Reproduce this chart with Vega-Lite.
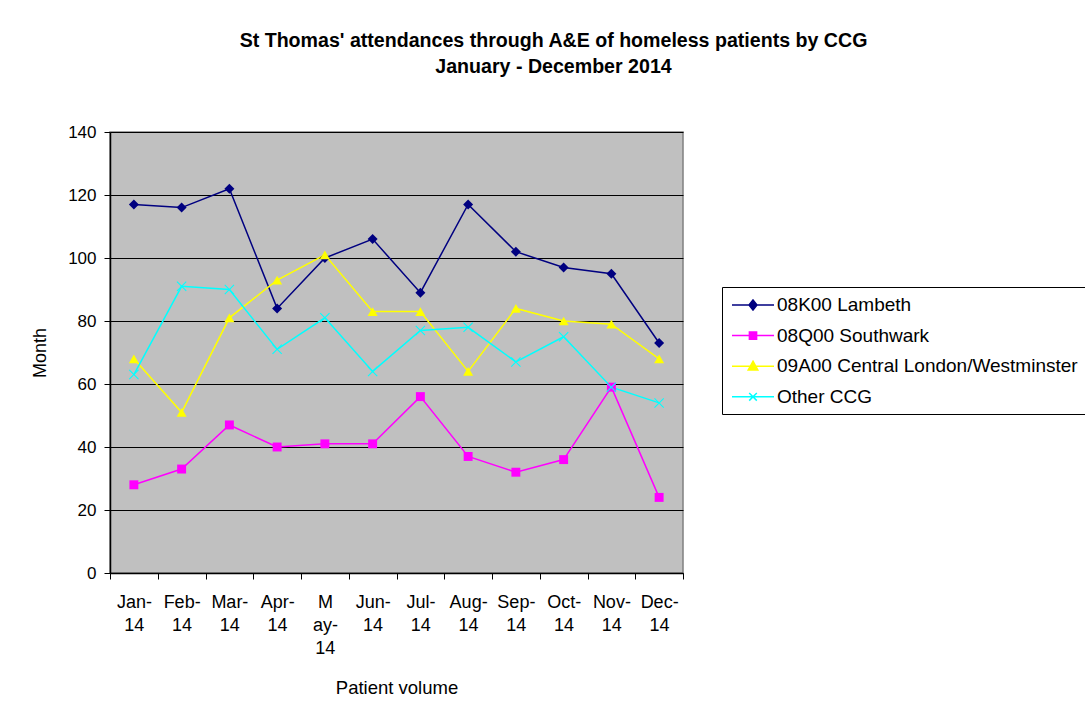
{
  "$schema": "https://vega.github.io/schema/vega-lite/v6.json",
  "autosize": {"type": "none"},
  "width": 573,
  "height": 441,
  "padding": {"left": 110, "top": 132, "right": 402, "bottom": 144},
  "background": "white",
  "config": {
    "font": "Liberation Sans",
    "view": {"fill": "#C0C0C0", "stroke": "#808080", "strokeWidth": 1.5}
  },
  "title": {
    "text": ["St Thomas' attendances through A&E of homeless patients by CCG", "January - December 2014"],
    "fontSize": 19.6,
    "fontWeight": "bold",
    "color": "black",
    "anchor": "middle",
    "dx": 157,
    "offset": 45,
    "lineHeight": 26.5
  },
  "data": {
    "values": [
      {"month": "Jan-14", "series": "08K00 Lambeth", "value": 117},
      {"month": "Feb-14", "series": "08K00 Lambeth", "value": 116},
      {"month": "Mar-14", "series": "08K00 Lambeth", "value": 122},
      {"month": "Apr-14", "series": "08K00 Lambeth", "value": 84},
      {"month": "May-14", "series": "08K00 Lambeth", "value": 100},
      {"month": "Jun-14", "series": "08K00 Lambeth", "value": 106},
      {"month": "Jul-14", "series": "08K00 Lambeth", "value": 89},
      {"month": "Aug-14", "series": "08K00 Lambeth", "value": 117},
      {"month": "Sep-14", "series": "08K00 Lambeth", "value": 102},
      {"month": "Oct-14", "series": "08K00 Lambeth", "value": 97},
      {"month": "Nov-14", "series": "08K00 Lambeth", "value": 95},
      {"month": "Dec-14", "series": "08K00 Lambeth", "value": 73},
      {"month": "Jan-14", "series": "08Q00 Southwark", "value": 28},
      {"month": "Feb-14", "series": "08Q00 Southwark", "value": 33},
      {"month": "Mar-14", "series": "08Q00 Southwark", "value": 47},
      {"month": "Apr-14", "series": "08Q00 Southwark", "value": 40},
      {"month": "May-14", "series": "08Q00 Southwark", "value": 41},
      {"month": "Jun-14", "series": "08Q00 Southwark", "value": 41},
      {"month": "Jul-14", "series": "08Q00 Southwark", "value": 56},
      {"month": "Aug-14", "series": "08Q00 Southwark", "value": 37},
      {"month": "Sep-14", "series": "08Q00 Southwark", "value": 32},
      {"month": "Oct-14", "series": "08Q00 Southwark", "value": 36},
      {"month": "Nov-14", "series": "08Q00 Southwark", "value": 59},
      {"month": "Dec-14", "series": "08Q00 Southwark", "value": 24},
      {"month": "Jan-14", "series": "09A00 Central London/Westminster", "value": 68},
      {"month": "Feb-14", "series": "09A00 Central London/Westminster", "value": 51},
      {"month": "Mar-14", "series": "09A00 Central London/Westminster", "value": 81},
      {"month": "Apr-14", "series": "09A00 Central London/Westminster", "value": 93},
      {"month": "May-14", "series": "09A00 Central London/Westminster", "value": 101},
      {"month": "Jun-14", "series": "09A00 Central London/Westminster", "value": 83},
      {"month": "Jul-14", "series": "09A00 Central London/Westminster", "value": 83},
      {"month": "Aug-14", "series": "09A00 Central London/Westminster", "value": 64},
      {"month": "Sep-14", "series": "09A00 Central London/Westminster", "value": 84},
      {"month": "Oct-14", "series": "09A00 Central London/Westminster", "value": 80},
      {"month": "Nov-14", "series": "09A00 Central London/Westminster", "value": 79},
      {"month": "Dec-14", "series": "09A00 Central London/Westminster", "value": 68},
      {"month": "Jan-14", "series": "Other CCG", "value": 63},
      {"month": "Feb-14", "series": "Other CCG", "value": 91},
      {"month": "Mar-14", "series": "Other CCG", "value": 90},
      {"month": "Apr-14", "series": "Other CCG", "value": 71},
      {"month": "May-14", "series": "Other CCG", "value": 81},
      {"month": "Jun-14", "series": "Other CCG", "value": 64},
      {"month": "Jul-14", "series": "Other CCG", "value": 77},
      {"month": "Aug-14", "series": "Other CCG", "value": 78},
      {"month": "Sep-14", "series": "Other CCG", "value": 67},
      {"month": "Oct-14", "series": "Other CCG", "value": 75},
      {"month": "Nov-14", "series": "Other CCG", "value": 59},
      {"month": "Dec-14", "series": "Other CCG", "value": 54}
    ]
  },
  "encoding": {
    "x": {
      "field": "month",
      "type": "ordinal",
      "sort": ["Jan-14", "Feb-14", "Mar-14", "Apr-14", "May-14", "Jun-14", "Jul-14", "Aug-14", "Sep-14", "Oct-14", "Nov-14", "Dec-14"],
      "scale": {"type": "band", "paddingInner": 0, "paddingOuter": 0},
      "bandPosition": 0.5,
      "axis": {
        "title": "Patient volume",
        "titleFontSize": 18.5,
        "titleFontWeight": "normal",
        "titleColor": "black",
        "titlePadding": 21,
        "labelAngle": 0,
        "labelFontSize": 18,
        "labelColor": "black",
        "labelLineHeight": 23,
        "labelPadding": 14,
        "labelBaseline": "top",
        "labelExpr": "!datum.label || length(datum.label) < 4 ? '' : datum.label == 'May-14' ? ['M', 'ay-', '14'] : [slice(datum.label, 0, 4), '14']",
        "tickBand": "extent",
        "tickColor": "black",
        "tickSize": 6,
        "domainColor": "black",
        "domainWidth": 1.5,
        "grid": false
      }
    },
    "y": {
      "field": "value",
      "type": "quantitative",
      "scale": {"domain": [0, 140], "nice": false},
      "axis": {
        "title": "Month",
        "titleFontSize": 18,
        "titleFontWeight": "normal",
        "titleColor": "black",
        "titlePadding": 18,
        "values": [0, 20, 40, 60, 80, 100, 120, 140],
        "labelFontSize": 17,
        "labelColor": "black",
        "labelPadding": 8,
        "tickColor": "black",
        "tickSize": 6,
        "domainColor": "black",
        "domainWidth": 1.5,
        "grid": true,
        "gridColor": "black",
        "gridWidth": 1.2,
        "gridOpacity": 1
      }
    },
    "color": {
      "field": "series",
      "type": "nominal",
      "scale": {
        "domain": ["08K00 Lambeth", "08Q00 Southwark", "09A00 Central London/Westminster", "Other CCG"],
        "range": ["#000080", "#FF00FF", "#FFFF00", "#00FFFF"]
      },
      "legend": {
        "title": null,
        "orient": "none",
        "legendX": 612,
        "legendY": 155,
        "padding": 7,
        "strokeColor": "black",
        "fillColor": "white",
        "labelFontSize": 19,
        "labelColor": "black",
        "labelOffset": 13,
        "labelLimit": 500,
        "symbolSize": 400,
        "symbolOffset": 13,
        "symbolType": "M-2.1,0H2.1",
        "rowPadding": 9.6,
        "encode": {
          "symbols": {
            "update": {
              "shape": {"signal": "datum.value == '08K00 Lambeth' ? 'M-2.1,0H2.1M0,-0.5L0.4,0L0,0.5L-0.4,0Z' : datum.value == '08Q00 Southwark' ? 'M-2.1,0H2.1M-0.36,-0.36H0.36V0.36H-0.36Z' : datum.value == 'Other CCG' ? 'M-2.1,0H2.1M-0.38,-0.38L0.38,0.38M0.38,-0.38L-0.38,0.38' : 'M-2.1,0H2.1M0,-0.5L0.48,0.38H-0.48Z'"},
              "fill": {"scale": "color", "field": "value"},
              "stroke": {"scale": "color", "field": "value"},
              "strokeWidth": {"value": 1.5},
              "opacity": {"value": 1},
              "fillOpacity": {"value": 1}
            }
          }
        }
      }
    }
  },
  "layer": [
    {
      "mark": {"type": "line", "strokeWidth": 1.5}
    },
    {
      "transform": [{"filter": "datum.series == '08K00 Lambeth'"}],
      "mark": {"type": "point", "filled": true, "opacity": 1, "size": 100, "shape": "diamond"}
    },
    {
      "transform": [{"filter": "datum.series == '08Q00 Southwark'"}],
      "mark": {"type": "point", "filled": true, "opacity": 1, "size": 80, "shape": "square"}
    },
    {
      "transform": [{"filter": "datum.series == '09A00 Central London/Westminster'"}],
      "mark": {"type": "point", "filled": true, "opacity": 1, "size": 100, "shape": "triangle-up"}
    },
    {
      "transform": [{"filter": "datum.series == 'Other CCG'"}],
      "mark": {"type": "point", "filled": true, "opacity": 1, "size": 100, "shape": "M-1,-0.85L-0.85,-1L0,-0.15L0.85,-1L1,-0.85L0.15,0L1,0.85L0.85,1L0,0.15L-0.85,1L-1,0.85L-0.15,0Z"}
    }
  ]
}
